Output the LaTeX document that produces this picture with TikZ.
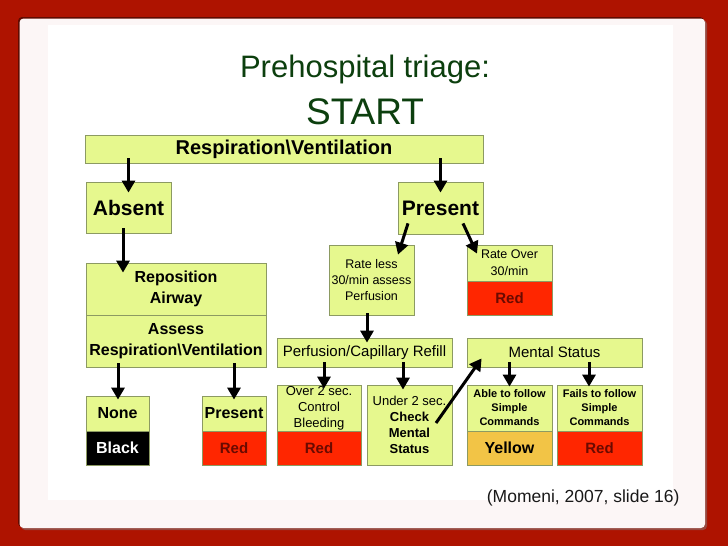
\documentclass[tikz,border=0pt]{standalone}
\usepackage{fontspec}
\setmainfont{Liberation Sans}
\usetikzlibrary{arrows.meta}
\definecolor{bg}{HTML}{AE1300}
\definecolor{panel}{HTML}{FCF6F6}
\definecolor{boxfill}{HTML}{E6F88E}
\definecolor{boxline}{HTML}{8C9A62}
\definecolor{redfill}{HTML}{FF2600}
\definecolor{yelfill}{HTML}{F2C446}
\definecolor{redtext}{HTML}{6A0A00}
\definecolor{titlegreen}{HTML}{0C3F0E}
\newcommand\fsz[2]{\fontsize{#1}{#2}\selectfont}
\begin{document}
\begin{tikzpicture}[x=1pt,y=-1pt,
  box/.style={draw=boxline, line width=0.8pt, fill=boxfill, inner sep=0pt, align=center, anchor=center, text=black},
  redbox/.style={box, fill=redfill, text=redtext, font=\bfseries\fsz{15}{18}},
  arr/.style={line width=3pt, -{Triangle[length=12pt,width=13pt]}}]
\useasboundingbox (0,0) rectangle (728,546);
\fill[bg] (0,0) rectangle (728,546);
\fill[bg!55!black, rounded corners=4pt] (18,17) rectangle (704,527);
\fill[bg!50!gray, rounded corners=4pt] (21,20) rectangle (707,530);
\fill[panel, rounded corners=4pt] (19.5,18.5) rectangle (705,528);
\fill[white] (48,25) rectangle (673,500);

% title
\node[anchor=base, text=titlegreen, font=\fsz{31}{36}] (title) at (365,77) {Prehospital triage:};
\node[anchor=base, text=titlegreen, font=\fsz{37}{42}] (start) at (365,124) {START};

% boxes
\node[box, minimum width=398pt, minimum height=28pt, font=\bfseries\fsz{20}{24}] (resp) at (284,149) {Respiration\textbackslash Ventilation};
\node[box, minimum width=85pt, minimum height=51pt, font=\bfseries\fsz{21}{24}] (absent) at (128.5,207.5) {Absent};
\node[box, minimum width=85pt, minimum height=52pt, font=\bfseries\fsz{21}{24}] (present) at (440.5,208) {Present};

\node[box, minimum width=180pt, minimum height=52pt, font=\bfseries\fsz{16}{20.5}] (repos) at (176,289) {Reposition\\Airway};
\node[box, minimum width=180pt, minimum height=52pt, font=\bfseries\fsz{16}{21}] (assess) at (176,341) {Assess\\Respiration\textbackslash Ventilation};

\node[box, minimum width=85pt, minimum height=70pt, font=\fsz{12.5}{16}] (rateless) at (371.5,280) {Rate less\\30/min assess\\Perfusion};
\node[box, minimum width=85pt, minimum height=36pt, font=\fsz{12.5}{17}] (rateover) at (509.5,263) {Rate Over\\30/min};
\node[redbox, minimum width=85pt, minimum height=34pt] (rateoverred) at (509.5,298) {Red};

\node[box, minimum width=175pt, minimum height=29pt, font=\fsz{15}{18}] (perf) at (364.5,352.5) {Perfusion/Capillary Refill};
\node[box, minimum width=175pt, minimum height=29pt, font=\fsz{15}{18}] (mental) at (554.5,352.5) {Mental Status};

\node[box, minimum width=63pt, minimum height=35pt, font=\bfseries\fsz{16}{18}] (none) at (117.5,413.5) {None};
\node[box, fill=black, text=white, minimum width=63pt, minimum height=34pt, font=\bfseries\fsz{16}{18}] (black) at (117.5,448) {Black};

\node[box, minimum width=64pt, minimum height=35pt, font=\bfseries\fsz{16}{18}] (presentl) at (234,413.5) {Present};
\node[redbox, minimum width=64pt, minimum height=34pt] (presentlred) at (234,448) {Red};

\node[box, minimum width=84pt, minimum height=46pt, font=\fsz{13}{16}] (over) at (319,408) {Over 2 sec.\\Control\\Bleeding};
\node[redbox, minimum width=84pt, minimum height=34pt] (overred) at (319,448) {Red};

\node[box, minimum width=85pt, minimum height=80pt, font=\fsz{13}{16}] (under) at (409.5,425) {Under 2 sec.\\\textbf{Check}\\\textbf{Mental}\\\textbf{Status}};

\node[box, minimum width=85pt, minimum height=46pt, font=\bfseries\fsz{11}{14}] (able) at (509.5,408) {Able to follow\\Simple\\Commands};
\node[box, fill=yelfill, minimum width=85pt, minimum height=34pt, font=\bfseries\fsz{16}{18}] (yellow) at (509.5,448) {Yellow};

\node[box, minimum width=85pt, minimum height=46pt, font=\bfseries\fsz{11}{14}] (fails) at (599.5,408) {Fails to follow\\Simple\\Commands};
\node[redbox, minimum width=85pt, minimum height=34pt] (failsred) at (599.5,448) {Red};

% citation
\node[anchor=base east, font=\fsz{17.5}{20}, text=black!90] (cite) at (683,502) {(Momeni, 2007, slide 16)};

% arrows
\draw[arr] ([yshift=5pt]resp.south -| absent.north) -- ([yshift=-11pt]absent.north);
\draw[arr] ([yshift=5pt]resp.south -| present.north) -- ([yshift=-11pt]present.north);
\draw[arr] ([xshift=-5.5pt,yshift=5pt]absent.south) -- ([xshift=-53pt,yshift=-10pt]repos.north);
\draw[arr] ([xshift=-32.5pt,yshift=11pt]present.south) -- ([xshift=26.5pt,yshift=-10pt]rateless.north);
\draw[arr] ([xshift=22.5pt,yshift=11pt]present.south) -- ([xshift=-32.5pt,yshift=-9pt]rateover.north);
\draw[arr] ([xshift=-4.5pt,yshift=2pt]rateless.south) -- ([xshift=2.5pt,yshift=-5pt]perf.north);
\draw[arr] ([xshift=-58pt,yshift=4pt]assess.south) -- ([xshift=0.5pt,yshift=-4pt]none.north);
\draw[arr] ([xshift=58pt,yshift=4pt]assess.south) -- ([yshift=-4pt]presentl.north);
\draw[arr] ([xshift=-40.5pt,yshift=5pt]perf.south) -- ([xshift=5pt,yshift=-4pt]over.north);
\draw[arr] ([xshift=38.5pt,yshift=5pt]perf.south) -- ([xshift=-6.5pt,yshift=-5pt]under.north);
\draw[arr] ([xshift=26.5pt,yshift=2pt]under.center) -- ([xshift=15pt,yshift=9pt]mental.south west);
\draw[arr] ([xshift=-45pt,yshift=5pt]mental.south) -- ([yshift=-2pt]able.north);
\draw[arr] ([xshift=34.5pt,yshift=5pt]mental.south) -- ([xshift=-10.5pt,yshift=-2pt]fails.north);
\end{tikzpicture}
\end{document}
